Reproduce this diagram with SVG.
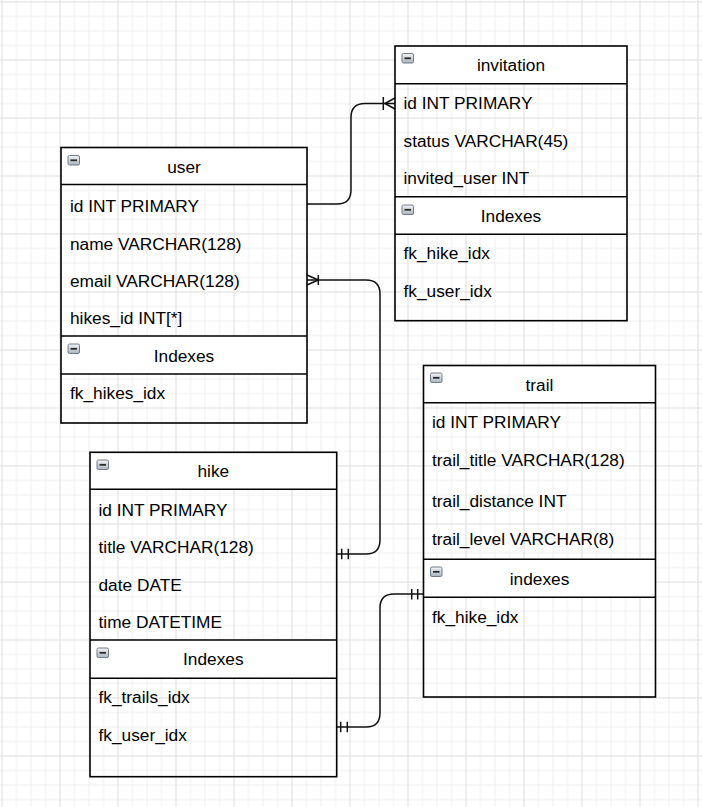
<svg xmlns="http://www.w3.org/2000/svg" xmlns:xlink="http://www.w3.org/1999/xlink" width="702" height="807" viewBox="0 0 702 807">
<defs>
<pattern id="grid" x="1.5" y="1.5" width="58" height="58" patternUnits="userSpaceOnUse">
<path d="M15,0V58M29.5,0V58M44,0V58M0,15H58M0,29.5H58M0,44H58" stroke="#efefef" stroke-width="1" fill="none"/>
<path d="M0.5,0V58M0,0.5H58" stroke="#dddddd" stroke-width="1" fill="none"/>
</pattern>
<linearGradient id="ig" x1="0" y1="0" x2="0" y2="1">
<stop offset="0" stop-color="#f3f5f7"/>
<stop offset="1" stop-color="#a9b4be"/>
</linearGradient>
<symbol id="tog" viewBox="0 0 12.5 10.5" width="12.5" height="10.5" overflow="visible">
<rect x="0.5" y="0.5" width="11.5" height="9.5" rx="1.5" fill="url(#ig)" stroke="#6f7d8a" stroke-width="1"/>
<rect x="3" y="4.4" width="6.5" height="1.8" fill="#2a2a2a"/>
</symbol>
</defs>
<style>
.hf{fill:#ffffff;stroke:none}
.box{fill:none;stroke:#000;stroke-width:1.6}
.sep{stroke:#000;stroke-width:1.6;fill:none}
text{font-family:"Liberation Sans",Arial,Helvetica,sans-serif;font-size:17.3px;fill:#000}
.c{text-anchor:middle}
.conn{fill:none;stroke:#111;stroke-width:1.5}
.mk{fill:none;stroke:#111;stroke-width:1.5}
</style>
<rect width="702" height="807" fill="#ffffff"/>
<rect width="702" height="807" fill="url(#grid)"/>

<g id="connectors">
<path class="conn" d="M307,204H337Q351,204 351,190V117.5Q351,103.5 365,103.5H395"/>
<path class="mk" d="M383.3,97V110M385,103.5L395,98M385,103.5L395,109"/>
<path class="conn" d="M307,280H366Q380,280 380,294V540Q380,554 366,554H337"/>
<path class="mk" d="M318.3,275V285M307,275L318.3,280M307,285L318.3,280"/>
<path class="mk" d="M341.7,548.7V559.3M348.3,548.7V559.3"/>
<path class="conn" d="M337,727H366Q380,727 380,713V608Q380,594 394,594H424"/>
<path class="mk" d="M340.7,721.7V732.3M347.3,721.7V732.3"/>
<path class="mk" d="M411.7,589V599.5M417.7,589V599.5"/>
</g>

<g id="user">
<rect class="hf" x="61" y="147.5" width="246" height="37"/>
<rect class="hf" x="61" y="336" width="246" height="38"/>
<rect class="box" x="61" y="147.5" width="246" height="275.5"/>
<path class="sep" d="M61,184.5H307M61,336H307M61,374H307"/>
<use xlink:href="#tog" x="67.5" y="155"/>
<text class="c" x="184" y="172.7">user</text>
<text x="70" y="211.5">id INT PRIMARY</text>
<text x="70" y="249.5">name VARCHAR(128)</text>
<text x="70" y="286.5">email VARCHAR(128)</text>
<text x="70" y="323.5">hikes_id INT[*]</text>
<use xlink:href="#tog" x="67.5" y="343.5"/>
<text class="c" x="184" y="361.7">Indexes</text>
<text x="70" y="399">fk_hikes_idx</text>
</g>

<g id="invitation">
<rect class="hf" x="395" y="46" width="232" height="37.7"/>
<rect class="hf" x="395" y="196.7" width="232" height="37.6"/>
<rect class="box" x="395" y="46" width="232" height="274.7"/>
<path class="sep" d="M395,83.7H627M395,196.7H627M395,234.3H627"/>
<use xlink:href="#tog" x="401.5" y="53"/>
<text class="c" x="511" y="71">invitation</text>
<text x="403.5" y="109.3">id INT PRIMARY</text>
<text x="403.5" y="146.7">status VARCHAR(45)</text>
<text x="403.5" y="184">invited_user INT</text>
<use xlink:href="#tog" x="401.5" y="204.5"/>
<text class="c" x="511" y="222.3">Indexes</text>
<text x="403.5" y="259.3">fk_hike_idx</text>
<text x="403.5" y="296.7">fk_user_idx</text>
</g>

<g id="trail">
<rect class="hf" x="423.5" y="365.5" width="232" height="37.2"/>
<rect class="hf" x="423.5" y="559.3" width="232" height="38"/>
<rect class="box" x="423.5" y="365.5" width="232" height="331.5"/>
<path class="sep" d="M423.5,402.7H655.5M423.5,559.3H655.5M423.5,597.3H655.5"/>
<use xlink:href="#tog" x="430" y="372.5"/>
<text class="c" x="539.5" y="391">trail</text>
<text x="432" y="428.3">id INT PRIMARY</text>
<text x="432" y="466">trail_title VARCHAR(128)</text>
<text x="432" y="506.7">trail_distance INT</text>
<text x="432" y="545">trail_level VARCHAR(8)</text>
<use xlink:href="#tog" x="430" y="566.5"/>
<text class="c" x="539.5" y="585">indexes</text>
<text x="432" y="623">fk_hike_idx</text>
</g>

<g id="hike">
<rect class="hf" x="90" y="452.3" width="246.7" height="37"/>
<rect class="hf" x="90" y="640" width="246.7" height="38.3"/>
<rect class="box" x="90" y="452.3" width="246.7" height="324.4"/>
<path class="sep" d="M90,489.3H336.7M90,640H336.7M90,678.3H336.7"/>
<use xlink:href="#tog" x="96.5" y="459.5"/>
<text class="c" x="213.3" y="477.3">hike</text>
<text x="98.5" y="516">id INT PRIMARY</text>
<text x="98.5" y="553.3">title VARCHAR(128)</text>
<text x="98.5" y="590.7">date DATE</text>
<text x="98.5" y="628.3">time DATETIME</text>
<use xlink:href="#tog" x="96.5" y="647.5"/>
<text class="c" x="213.3" y="665">Indexes</text>
<text x="98.5" y="703.3">fk_trails_idx</text>
<text x="98.5" y="740.7">fk_user_idx</text>
</g>
</svg>
